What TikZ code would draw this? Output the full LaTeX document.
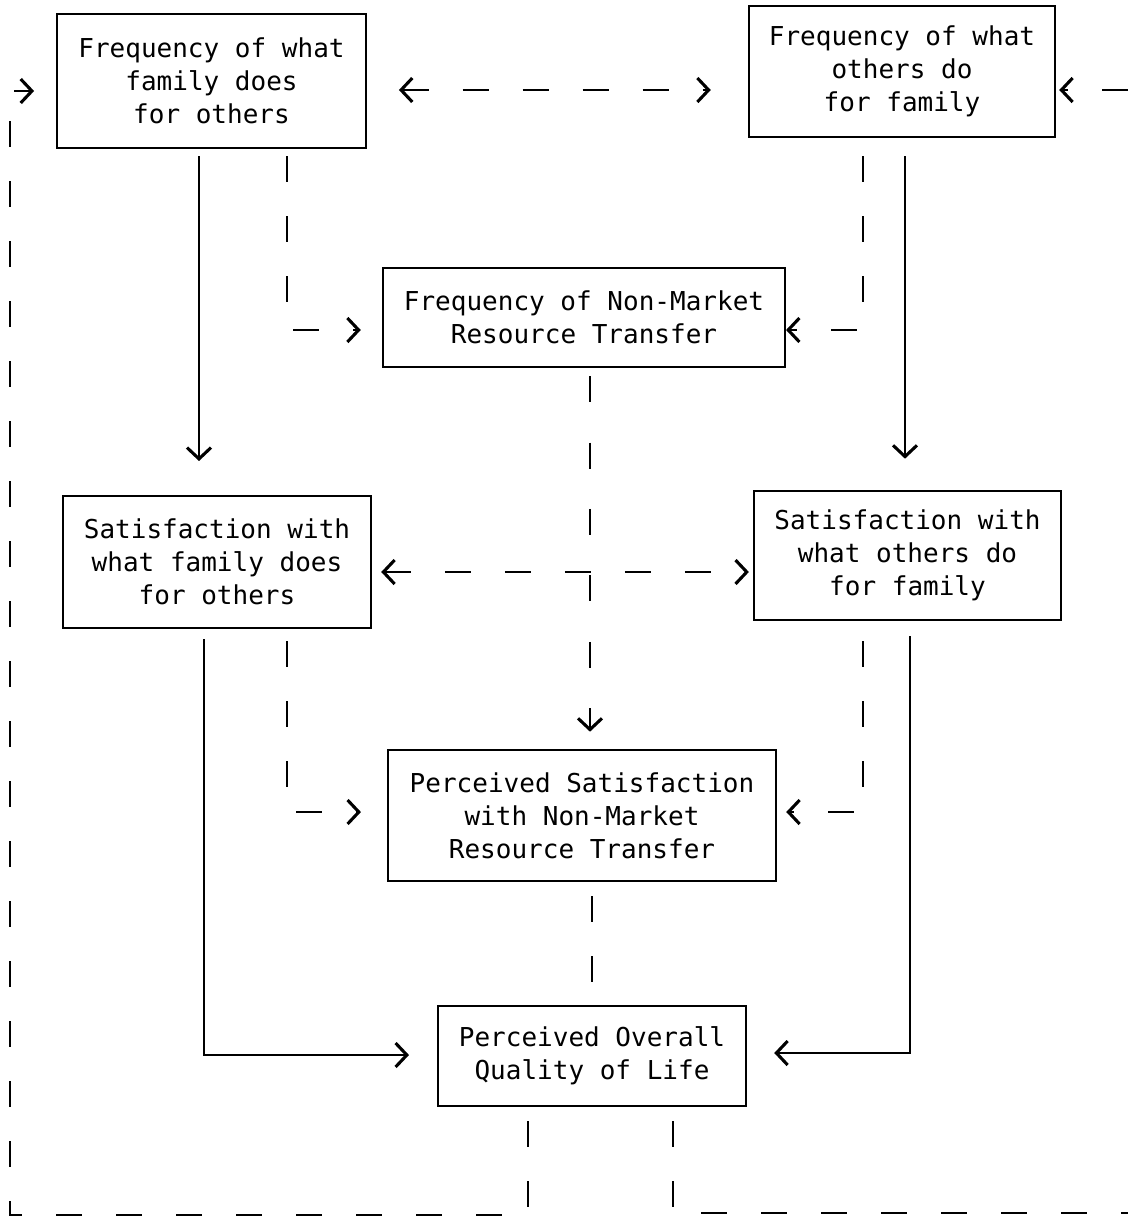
\documentclass[tikz,border=0pt]{standalone}
\usepackage{fontspec}
\setmonofont{DejaVu Sans Mono}
\usepackage{tikz}
\usetikzlibrary{positioning, arrows.meta}
\tikzstyle{block} = [draw, rectangle, line width=1.4pt, align=center,
    inner sep=0pt, font=\ttfamily\fontsize{18.5}{23.5}\selectfont]
\tikzstyle{sline} = [line width=1.5pt]
\tikzstyle{dline} = [line width=1.5pt, dash pattern=on 0.65cm off 0.85cm]
\tikzstyle{arr} = [-{Straight Barb[length=8pt,width=17pt,line width=2.2pt]}]
\tikzstyle{both} = [{Straight Barb[length=8pt,width=17pt,line width=2.2pt]}-{Straight Barb[length=8pt,width=17pt,line width=2.2pt]}]

\begin{document}
\begin{tikzpicture}[x=0.025cm, y=-0.025cm]
        \useasboundingbox (0,0) rectangle (1128,1218);

        % top row
        \node[
            block,
            minimum width=7.72cm, minimum height=3.35cm
        ](famfreq) at (211.5,81){Frequency of what\\family does\\for others};

        \node[
            block,
            minimum width=7.65cm, minimum height=3.28cm
        ](othfreq) at (902,71.5){Frequency of what\\others do\\for family};

        \node[
            block,
            minimum width=10.05cm, minimum height=2.48cm
        ](nmfreq) at (584,317.5){Frequency of Non-Market\\Resource Transfer};

        % middle row
        \node[
            block,
            minimum width=7.7cm, minimum height=3.3cm
        ](famsat) at (217,562){Satisfaction with\\what family does\\for others};

        \node[
            block,
            minimum width=7.68cm, minimum height=3.23cm
        ](othsat) at (907.5,555.5){Satisfaction with\\what others do\\for family};

        \node[
            block,
            minimum width=9.7cm, minimum height=3.28cm
        ](nmsat) at (582,815.5){Perceived Satisfaction\\with Non-Market\\Resource Transfer};

        \node[
            block,
            minimum width=7.7cm, minimum height=2.5cm
        ](qol) at (592,1056){Perceived Overall\\Quality of Life};

        % free ends at the right border
        \coordinate (rightlow) at (1128,1213);
        \coordinate (righttop) at (1128,90);

        \draw[dline, both, shorten <=0.8cm, shorten >=0.93cm]
            (famfreq.east |- 0,90) -- (othfreq.west |- 0,90);
        \draw[sline, arr, shorten <=0.18cm, shorten >=0.85cm]
            (famfreq.south -| 199,0) -- (famsat.north -| 199,0);
        \draw[dline, arr, shorten <=0.18cm, shorten >=0.53cm]
            (famfreq.south -| 287,0) |- (nmfreq.west |- 0,330);
        \draw[sline, arr, shorten <=0.45cm, shorten >=0.78cm]
            (othfreq.south -| 905,0) -- (othsat.north -| 905,0);
        \draw[dline, arr, shorten <=0.45cm]
            (othfreq.south -| 863,0) |- (nmfreq.east |- 0,330);
        \draw[dline, arr, dash pattern=on 0.65cm off 1.01cm,
            shorten <=0.2cm, shorten >=0.43cm]
            (nmfreq.south -| 590,0) -- (nmsat.north -| 590,0);

        \draw[dline, both, shorten <=0.23cm, shorten >=0.1cm]
            (famsat.east |- 0,572) -- (othsat.west |- 0,572);
        \draw[dline, arr, shorten <=0.3cm, shorten >=0.65cm]
            (famsat.south -| 287,0) |- (nmsat.west |- 0,812);
        \draw[dline, arr, shorten <=0.5cm, shorten >=0.23cm]
            (othsat.south -| 863,0) |- (nmsat.east |- 0,812);
        \draw[dline, shorten <=0.35cm, shorten >=0.4cm]
            (nmsat.south -| 592,0) -- (qol.north -| 592,0);

        \draw[sline, arr, shorten <=0.25cm, shorten >=0.7cm]
            (famsat.south -| 204,0) |- (qol.west |- 0,1055);
        \draw[sline, arr, shorten <=0.38cm, shorten >=0.68cm]
            (othsat.south -| 910,0) |- (qol.east |- 0,1053);

        % feedback
        \draw[dline, arr, shorten <=0.35cm, shorten >=0.55cm]
            (qol.south -| 528,0) |- (10,1215) |- (famfreq.west |- 0,91);
        \draw[dline, shorten <=0.35cm]
            (qol.south -| 673,0) |- (rightlow);
        \draw[dline, arr, shorten >=0.08cm]
            (righttop) -- (othfreq.east |- righttop);
    \end{tikzpicture}
\end{document}
